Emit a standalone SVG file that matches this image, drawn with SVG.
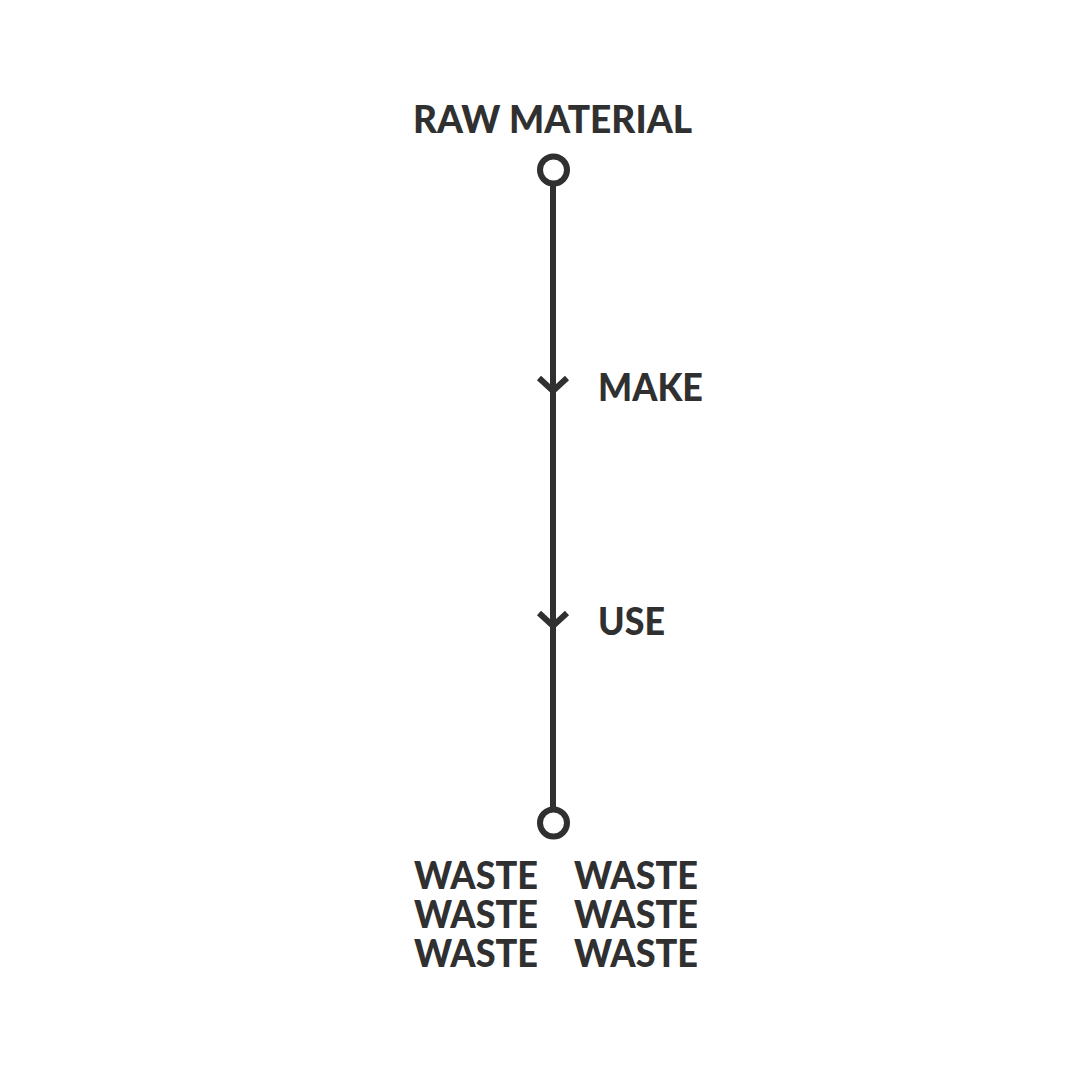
<svg xmlns="http://www.w3.org/2000/svg" width="1080" height="1080" viewBox="0 0 1080 1080">
<style>
.t{font-family:"Lato","Liberation Sans",Arial,sans-serif;font-weight:900;font-size:38px;fill:#303030}
.ln{stroke:#303030;stroke-width:6;fill:none}
.nd{stroke:#303030;stroke-width:6;fill:#ffffff}
.ch{stroke:#303030;stroke-width:6;fill:none;stroke-linejoin:miter}
</style>
<rect width="1080" height="1080" fill="#ffffff"/>
<g id="connectors">
<line class="ln" x1="553" y1="170" x2="553" y2="823"/>
<polyline class="ch" points="539,378 553,391 567,378"/>
<polyline class="ch" points="539,613 553,626 567,613"/>
</g>
<g id="raw-material">
<circle class="nd" cx="553.5" cy="170" r="13.5"/>
<text class="t" x="413" y="133" textLength="279" lengthAdjust="spacingAndGlyphs">RAW MATERIAL</text>
</g>
<g id="make">
<text class="t" x="598" y="401" textLength="105" lengthAdjust="spacingAndGlyphs">MAKE</text>
</g>
<g id="use">
<text class="t" x="598" y="635" textLength="67" lengthAdjust="spacingAndGlyphs">USE</text>
</g>
<g id="waste">
<circle class="nd" cx="553.5" cy="823" r="13.5"/>
<text class="t" x="414" y="889" textLength="124" lengthAdjust="spacingAndGlyphs">WASTE</text>
<text class="t" x="574" y="889" textLength="124" lengthAdjust="spacingAndGlyphs">WASTE</text>
<text class="t" x="414" y="928" textLength="124" lengthAdjust="spacingAndGlyphs">WASTE</text>
<text class="t" x="574" y="928" textLength="124" lengthAdjust="spacingAndGlyphs">WASTE</text>
<text class="t" x="414" y="967" textLength="124" lengthAdjust="spacingAndGlyphs">WASTE</text>
<text class="t" x="574" y="967" textLength="124" lengthAdjust="spacingAndGlyphs">WASTE</text>
</g>
</svg>
